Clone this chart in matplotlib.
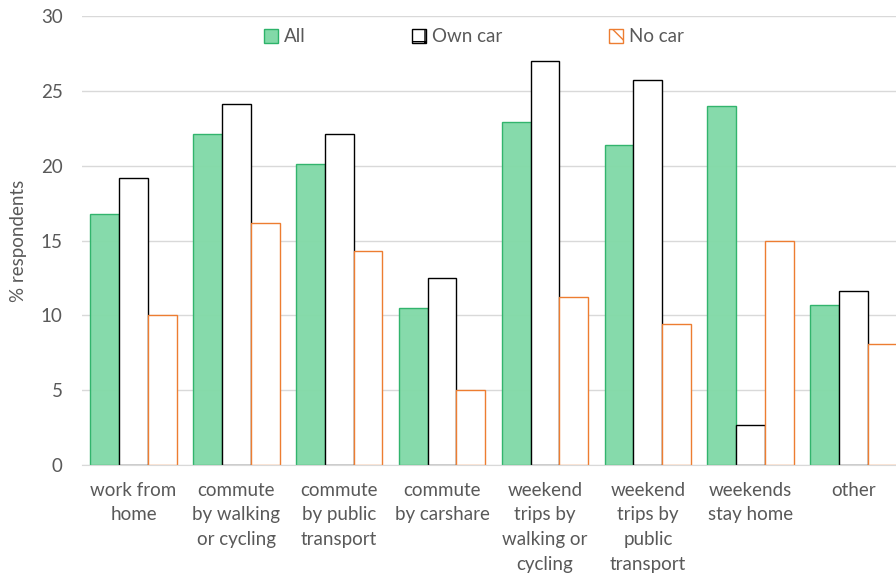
import numpy as np
import matplotlib.pyplot as plt
from matplotlib.patches import Patch

# categories and values (% respondents)
categories = ['work from\nhome', 'commute\nby walking\nor cycling', 'commute\nby public\ntransport',
              'commute\nby carshare', 'weekend\ntrips by\nwalking or\ncycling', 'weekend\ntrips by\npublic\ntransport',
              'weekends\nstay home', 'other']
all_resp = [16.8, 22.1, 20.1, 10.5, 22.9, 21.4, 24.0, 10.7]
own_car = [19.2, 24.1, 22.1, 12.5, 27.0, 25.7, 2.7, 11.6]
no_car = [10.0, 16.2, 14.3, 5.0, 11.2, 9.4, 15.0, 8.1]

plt.rcParams['font.family'] = ['Lato', 'DejaVu Sans']
grey = '#595959'
fs = 13.5

fig = plt.figure(figsize=(8.96, 5.78), dpi=100)
ax = fig.add_axes([82/896, 113/578, 823/896, 449/578])

x = np.arange(len(categories))
w = 0.28
ax.bar(x - w, all_resp, w, color='#82d9a8', edgecolor='#2db36a', linewidth=1, zorder=2, alpha=0.97)
ax.bar(x, own_car, w, color='white', edgecolor='black', linewidth=1, zorder=2)
ax.bar(x + w, no_car, w, color='white', edgecolor='#ed7d31', linewidth=1, zorder=2)

ax.set_xlim(-0.5, 7.5)
ax.set_ylim(0, 30)
ax.set_yticks(np.arange(0, 31, 5))
ax.yaxis.grid(True, color='#d9d9d9', linewidth=1, zorder=0)
ax.set_axisbelow(True)
for s in ['top', 'right', 'left']:
    ax.spines[s].set_visible(False)
ax.spines['bottom'].set_color('#d9d9d9')
ax.tick_params(axis='both', length=0, colors=grey, labelsize=fs)
ax.tick_params(axis='y', pad=14)
ax.tick_params(axis='x', pad=12)
ax.set_xticks(x)
ax.set_xticklabels(categories, linespacing=1.55)
ax.set_ylabel('% respondents', color=grey, fontsize=fs, labelpad=10)

plt.rcParams['hatch.linewidth'] = 1.0
handles = [Patch(facecolor='#82d9a8', edgecolor='#2db36a', label='All'),
           Patch(facecolor='white', edgecolor='black', hatch='+', label='Own car'),
           Patch(facecolor='white', edgecolor='#ed7d31', hatch='\\\\', label='No car')]
leg = ax.legend(handles=handles, loc='upper center', bbox_to_anchor=(0.476, 1.01), ncol=3,
                frameon=False, fontsize=fs, handlelength=0.75, handleheight=0.75,
                handletextpad=0.3, columnspacing=5.7)
for t in leg.get_texts():
    t.set_color(grey)

fig.savefig('out.png', dpi=100)
